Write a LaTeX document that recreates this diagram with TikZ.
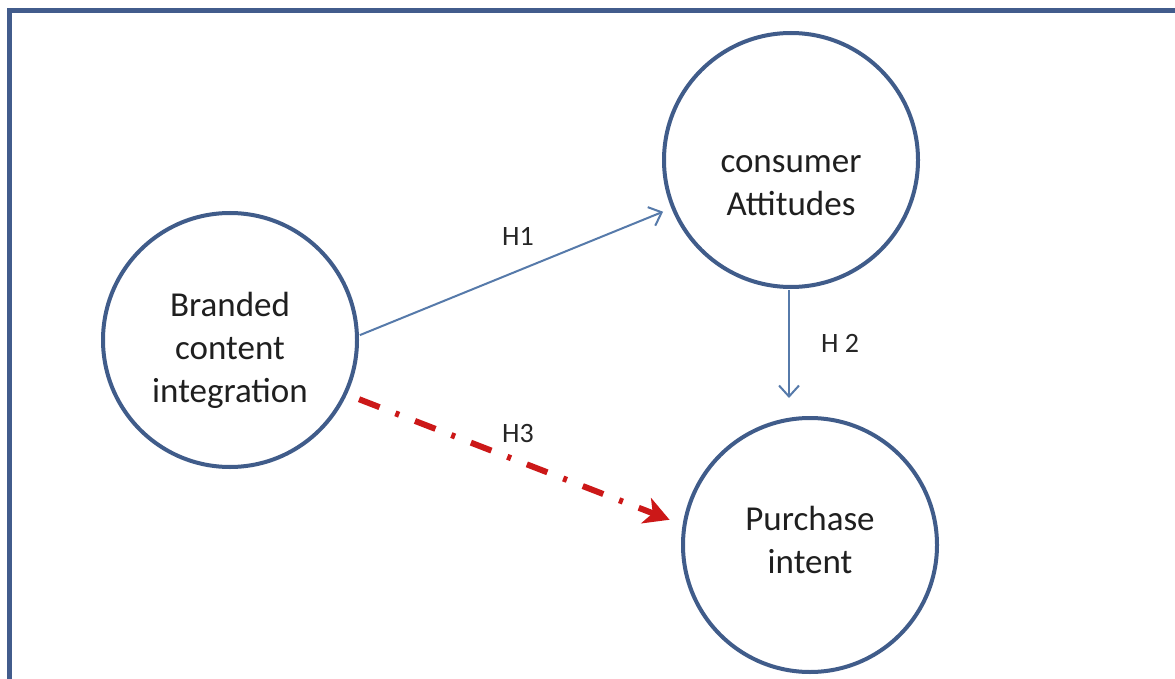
\documentclass[tikz,border=0pt]{standalone}
\usepackage{fontspec}
\setmainfont{Carlito}
\usetikzlibrary{arrows.meta}
\definecolor{ringblue}{RGB}{64,92,138}
\definecolor{frameblue}{RGB}{66,92,140}
\definecolor{linkblue}{RGB}{86,122,170}
\definecolor{dashred}{RGB}{204,24,24}
\begin{document}
\begin{tikzpicture}[x=1pt,y=-1pt,
  construct/.style={circle,draw=ringblue,line width=4pt,fill=white,
    minimum size=254pt,inner sep=0pt},
  caption/.style={align=center,font=\fontsize{35}{43}\selectfont,text=black!88},
  link/.style={draw=linkblue,line width=2pt,
    -{Straight Barb[length=11pt,width=20pt,line width=2pt]}},
  weaklink/.style={draw=dashred,line width=6pt,
    dash pattern=on 22pt off 17pt on 4pt off 17pt,
    -{Stealth[length=25pt,width=27pt,inset=7pt]}},
  hyp/.style={font=\fontsize{28}{32}\selectfont,text=black!85}]
  % page and frame
  \fill[white] (0,0) rectangle (1175,679);
  \useasboundingbox (0,0) rectangle (1175,679);
  \draw[frameblue,line width=5pt] (9.5,679) -- (9.5,10.5) -- (1175,10.5);

  % constructs (captions placed relative to the ring centres)
  \node[construct,label={[caption,yshift=-10pt]center:Branded\\content\\integration}]
    (branded) at (230,340) {};
  \node[construct,label={[caption,yshift=-26pt]center:consumer\\Attitudes}]
    (consumer) at (791,160) {};
  \node[construct,label={[caption,yshift=5pt]center:Purchase\\intent}]
    (purchase) at (810,545) {};

  % hypothesised paths
  \draw[link,shorten <=1pt,shorten >=9pt] (branded.2) -- (consumer.202);
  \draw[link,shorten <=1pt,shorten >=18pt] (consumer.south -| 789,0) -- (purchase.north -| 789,0);
  \draw[weaklink,shorten <=13pt,shorten >=14pt] (branded.-25) -- (purchase.171);

  % path labels
  \node[hyp] (h1) at (518,236) {H1};
  \node[hyp] (h2) at (840,343) {H 2};
  \node[hyp] (h3) at (518,434) {H3};
\end{tikzpicture}
\end{document}
